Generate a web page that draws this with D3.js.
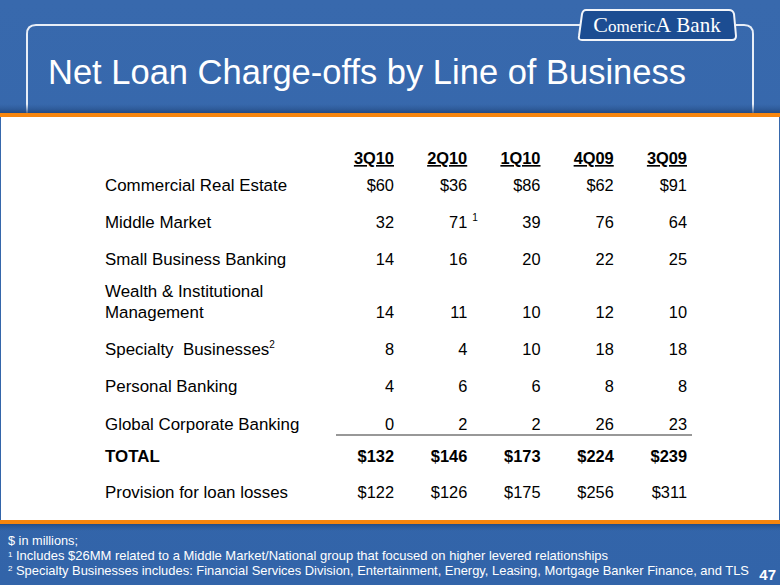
<!DOCTYPE html>
<html><head><meta charset="utf-8">
<script src="https://cdn.jsdelivr.net/npm/d3@7"></script>
<style>html,body{margin:0;padding:0;background:#3568ad;}svg{display:block;}</style>
</head><body>
<script>
const periods = ["3Q10","2Q10","1Q10","4Q09","3Q09"];
const rowLabels = ["Commercial Real Estate","Middle Market","Small Business Banking","Wealth & Institutional Management","Specialty  Businesses","Personal Banking","Global Corporate Banking","TOTAL","Provision for loan losses"];
const creValues = [60,36,86,62,91];
const middleMarket = [32,71,39,76,64];
const smallBusiness = [14,16,20,22,25];
const wealthMgmt = [14,11,10,12,10];
const specialty = [8,4,10,18,18];
const personal = [4,6,6,8,8];
const globalCorp = [0,2,2,26,23];
const totals = [132,146,173,224,239];
const provision = [122,126,175,256,311];
const title = "Net Loan Charge-offs by Line of Business";
const footnotes = ["$ in millions;","Includes $26MM related to a Middle Market/National group that focused on higher levered relationships","Specialty Businesses includes: Financial Services Division, Entertainment, Energy, Leasing, Mortgage Banker Finance, and TLS"];
const pageNumber = "47";

const rows = [
  {label: rowLabels[0], values: creValues, dollar: true},
  {label: rowLabels[1], values: middleMarket, sup: {col: 1, text: "1"}},
  {label: rowLabels[2], values: smallBusiness},
  {label: rowLabels[3], values: wealthMgmt, twoLine: true},
  {label: rowLabels[4], values: specialty, labelSup: "2"},
  {label: rowLabels[5], values: personal},
  {label: rowLabels[6], values: globalCorp},
  {label: rowLabels[7], values: totals, dollar: true, bold: true},
  {label: rowLabels[8], values: provision, dollar: true}
];

const W = 780, H = 585;
const svg = d3.select("body").append("svg").attr("width", W).attr("height", H);
const defs = svg.append("defs");
const bg = defs.append("linearGradient").attr("id","bg").attr("x1",0).attr("y1",0).attr("x2",0).attr("y2",1);
bg.append("stop").attr("offset","0%").attr("stop-color","#3869ad");
bg.append("stop").attr("offset","100%").attr("stop-color","#3264a9");
const sh = defs.append("linearGradient").attr("id","sh").attr("x1",0).attr("y1",0).attr("x2",0).attr("y2",1);
sh.append("stop").attr("offset","0%").attr("stop-color","#2a5590").attr("stop-opacity",0);
sh.append("stop").attr("offset","100%").attr("stop-color","#1f4378").attr("stop-opacity",0.8);
const sh2 = defs.append("linearGradient").attr("id","sh2").attr("x1",0).attr("y1",0).attr("x2",0).attr("y2",1);
sh2.append("stop").attr("offset","0%").attr("stop-color","#1f4378").attr("stop-opacity",0.7);
sh2.append("stop").attr("offset","100%").attr("stop-color","#2a5590").attr("stop-opacity",0);

svg.append("rect").attr("width",W).attr("height",H).attr("fill","url(#bg)");

// header frame
svg.append("path")
  .attr("d","M27,113 L27,34 Q27,25 36,25 L581,25")
  .attr("fill","none").attr("stroke","#e8eef7").attr("stroke-width",2);
svg.append("path")
  .attr("d","M736,25 L744,25 Q753,25 753,34 L753,113")
  .attr("fill","none").attr("stroke","#e8eef7").attr("stroke-width",2);

// logo
svg.append("path")
  .attr("d","M586,10 L729,10 Q733,10 734,14 L736,36 Q736,40 732,40 L582,40 Q578,40 579,36 L582,14 Q583,10 586,10 Z")
  .attr("fill","#1c4d92").attr("stroke","#f2f5fa").attr("stroke-width",2);
const logo = svg.append("text").attr("x",657).attr("y",32).attr("text-anchor","middle")
  .attr("fill","#ffffff").attr("font-family","'Liberation Serif','DejaVu Serif',serif");
logo.append("tspan").attr("font-size",22).text("C");
logo.append("tspan").attr("font-size",17).text("omeric");
logo.append("tspan").attr("font-size",22).text("A");
logo.append("tspan").attr("font-size",21).text(" Bank");

// title
svg.append("text").attr("x",48).attr("y",84).attr("fill","#ffffff")
  .attr("font-family","'Liberation Sans',Arial,sans-serif").attr("font-size",34.5).text(title);

// panel
svg.append("rect").attr("x",0).attr("y",104).attr("width",W).attr("height",9).attr("fill","url(#sh)");
svg.append("rect").attr("x",0).attr("y",113).attr("width",W).attr("height",4).attr("fill","#f7860e");
svg.append("rect").attr("x",1).attr("y",117).attr("width",W-2).attr("height",403).attr("fill","#ffffff");
svg.append("rect").attr("x",0).attr("y",520).attr("width",W).attr("height",4).attr("fill","#f7860e");
svg.append("rect").attr("x",0).attr("y",524).attr("width",W).attr("height",7).attr("fill","url(#sh2)");

// table scales
const x = d3.scalePoint().domain(periods).range([394, 687]);
const y = d3.scaleOrdinal().domain(rowLabels).range([191,228,265,318,355,392,430,462,498]);
const font = "'Liberation Sans',Arial,sans-serif";
const fmt = d3.format("d");

const tbl = svg.append("g").attr("font-family", font).attr("font-size", 16.4).attr("fill","#000");

// header
tbl.selectAll("text.hdr").data(periods).join("text").attr("class","hdr")
  .attr("x", d => x(d)).attr("y", 164).attr("text-anchor","end")
  .attr("font-weight","bold").attr("text-decoration","underline").text(d => d);

// row labels
rows.forEach(r => {
  const t = tbl.append("text").attr("x",105).attr("font-size",16.9).attr("font-weight", r.bold ? "bold" : null)
    .style("white-space","pre");
  if (r.twoLine) {
    t.attr("y", y(r.label) - 21);
    t.append("tspan").attr("x",105).text("Wealth & Institutional");
    t.append("tspan").attr("x",105).attr("dy",21).text("Management");
  } else {
    t.attr("y", y(r.label)).text(r.label);
    if (r.labelSup) t.append("tspan").attr("font-size",10).attr("dy",-7).text(r.labelSup);
  }
  tbl.selectAll(null).data(r.values.map((v,i)=>({v, p: periods[i], i}))).join("text")
    .attr("x", d => x(d.p)).attr("y", y(r.label)).attr("text-anchor","end")
    .attr("font-weight", r.bold ? "bold" : null)
    .text(d => (r.dollar ? "$" : "") + fmt(d.v));
  if (r.sup) {
    tbl.append("text").attr("x", x(periods[r.sup.col]) + 5).attr("y", y(r.label) - 7)
      .attr("font-size",10).text(r.sup.text);
  }
});

// rule above total
tbl.append("line").attr("x1", 336).attr("x2", x(periods[periods.length-1]) + 5)
  .attr("y1", 435).attr("y2", 435).attr("stroke","#333").attr("stroke-width",1.2);

// footnotes
const fn = svg.append("g").attr("fill","#ffffff").attr("font-family", font).attr("font-size",13);
fn.append("text").attr("x",8).attr("y",545).attr("textLength",70).attr("lengthAdjust","spacingAndGlyphs").text(footnotes[0]);
fn.append("text").attr("x",8).attr("y",556.5).attr("font-size",8).text("1");
fn.append("text").attr("x",16).attr("y",560).attr("textLength",592).attr("lengthAdjust","spacingAndGlyphs").text(footnotes[1]);
fn.append("text").attr("x",8).attr("y",571).attr("font-size",8).text("2");
fn.append("text").attr("x",16).attr("y",575).attr("textLength",733).attr("lengthAdjust","spacingAndGlyphs").text(footnotes[2]);
svg.append("text").attr("x",776).attr("y",580).attr("text-anchor","end").attr("fill","#ffffff")
  .attr("font-family",font).attr("font-weight","bold").attr("font-size",15).text(pageNumber);
</script>
</body></html>
